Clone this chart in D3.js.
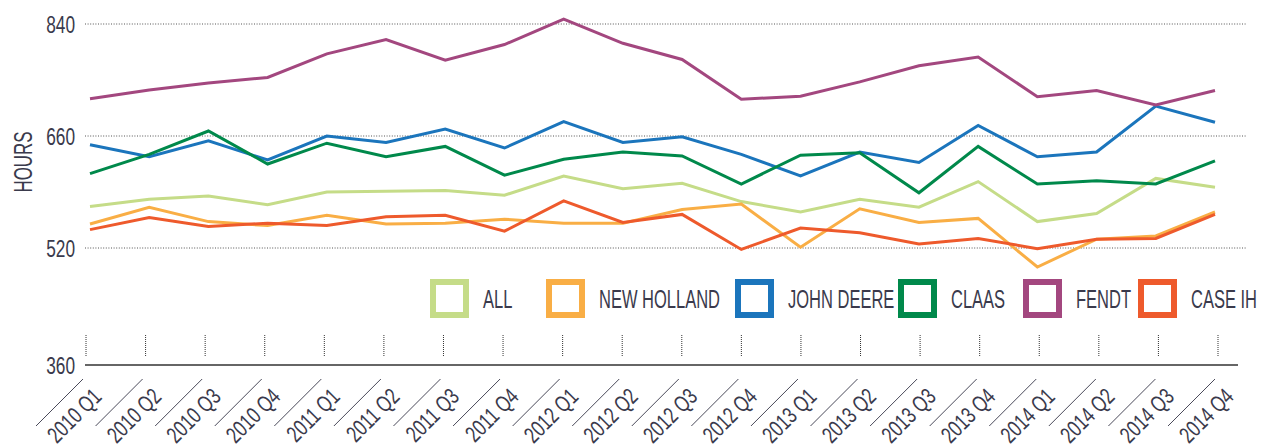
<!DOCTYPE html>
<html>
<head>
<meta charset="utf-8">
<script src="https://cdn.jsdelivr.net/npm/d3@7/dist/d3.min.js"></script>
<style>
  html, body { margin: 0; padding: 0; background: #fff; }
  svg text { font-family: "Liberation Sans", Arial, sans-serif; fill: #3a3a4c; }
</style>
</head>
<body>
<svg id="chart" width="1261" height="447"></svg>
<script>
// quarters on the x axis
const quarters = ["2010 Q1","2010 Q2","2010 Q3","2010 Q4","2011 Q1","2011 Q2","2011 Q3","2011 Q4",
  "2012 Q1","2012 Q2","2012 Q3","2012 Q4","2013 Q1","2013 Q2","2013 Q3","2013 Q4",
  "2014 Q1","2014 Q2","2014 Q3","2014 Q4"];

const yTicks = [360, 520, 660, 840];

// hours per quarter
const allBrands  = [572,581,585,574,590,591,592,586,610,594,601,578,565,581,571,603,553,563,607,596];
const newHolland = [550,571,553,548,561,550,551,556,551,551,568,575,521,569,552,557,494,531,535,565];
const johnDeere  = [649,634,654,630,660,652,671,645,683,652,659,637,610,640,627,677,634,640,708,682];
const claas      = [613,637,668,625,651,634,647,611,631,640,635,600,636,639,589,647,600,604,600,629];
const fendt      = [720,734,745,754,792,815,782,807,848,809,783,719,724,747,773,787,723,733,710,733];
const caseIH     = [543,558,547,551,548,559,561,541,579,552,562,518,545,539,525,532,519,531,532,562];

const seriesNames  = ["ALL","NEW HOLLAND","JOHN DEERE","CLAAS","FENDT","CASE IH"];
const seriesColors = ["#c5dc88","#f9ae45","#1b75bc","#00894b","#a3477f","#ee5a2c"];
const seriesValues = [allBrands, newHolland, johnDeere, claas, fendt, caseIH];

const svg = d3.select("#chart");

// gridlines are evenly spaced though the labels are not
const y = d3.scaleLinear()
  .domain(yTicks)
  .range([365, 248, 136, 24]);

const x = d3.scalePoint().domain(quarters).range([90, 1215]);
const xTick = d3.scalePoint().domain(quarters).range([86, 1218]);

// dotted gridlines
svg.append("g")
  .selectAll("line")
  .data(yTicks.filter(d => d !== 360))
  .enter()
  .append("line")
  .attr("x1", 85).attr("x2", 1246)
  .attr("y1", d => y(d)).attr("y2", d => y(d))
  .style("stroke", "#555")
  .style("stroke-width", 1)
  .style("stroke-dasharray", "1,1.6");

// y labels (squeezed to look like a condensed face)
svg.append("g")
  .selectAll("text")
  .data(yTicks)
  .enter()
  .append("text")
  .attr("transform", d => "translate(75," + y(d) + ") scale(0.72,1)")
  .attr("dy", "0.36em")
  .attr("text-anchor", "end")
  .style("font-size", "24px")
  .text(d => d);

svg.append("text")
  .attr("transform", "translate(32,162) rotate(-90) scale(0.65,1)")
  .attr("text-anchor", "middle")
  .style("font-size", "26px")
  .text("HOURS");

// baseline
svg.append("line")
  .attr("x1", 85).attr("x2", 1238)
  .attr("y1", 365).attr("y2", 365)
  .style("stroke", "#333")
  .style("stroke-width", 1.5);

// x ticks, slanted rules and labels
let xg = svg.append("g")
  .selectAll("g")
  .data(quarters)
  .enter()
  .append("g")
  .attr("transform", d => "translate(" + xTick(d) + ",0)");

xg.append("line")
  .attr("x1", 0).attr("x2", 0)
  .attr("y1", 335).attr("y2", 357)
  .style("stroke", "#333")
  .style("stroke-dasharray", "1,1");

xg.append("line")
  .attr("x1", -3).attr("y1", 379)
  .attr("x2", -50).attr("y2", 426)
  .style("stroke", "#4a4a5a")
  .style("stroke-width", 1);

xg.append("text")
  .attr("transform", "translate(17,398) rotate(-45) scale(0.74,1)")
  .attr("text-anchor", "end")
  .style("font-size", "23px")
  .text(d => d);

// lines
const line = d3.line()
  .x((d, i) => x(quarters[i]))
  .y(d => y(d));

svg.append("g")
  .selectAll("path")
  .data(seriesValues)
  .enter()
  .append("path")
  .attr("d", line)
  .style("fill", "none")
  .style("stroke", (d, i) => seriesColors[i])
  .style("stroke-width", 3)
  .style("stroke-linejoin", "miter");

// legend
const legendX = [430, 546, 735, 898, 1023, 1138];
let lg = svg.append("g")
  .selectAll("g")
  .data(seriesNames)
  .enter()
  .append("g")
  .attr("transform", (d, i) => "translate(" + legendX[i] + ",279)");

lg.append("rect")
  .attr("x", 3).attr("y", 3)
  .attr("width", 33).attr("height", 33)
  .style("fill", "#fff")
  .style("stroke", (d, i) => seriesColors[i])
  .style("stroke-width", 6);

lg.append("text")
  .attr("transform", "translate(53,29) scale(0.66,1)")
  .style("font-size", "25px")
  .text(d => d);
</script>
</body>
</html>
